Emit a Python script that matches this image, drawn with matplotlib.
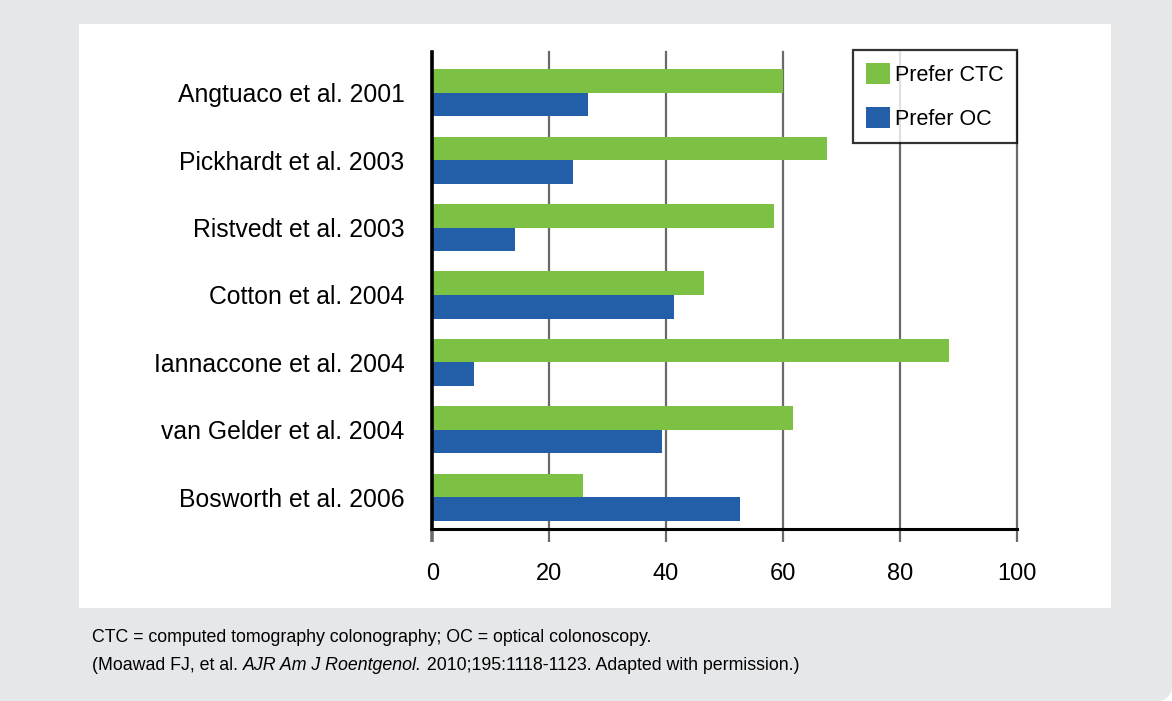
import matplotlib
matplotlib.use('Agg')
import matplotlib.pyplot as plt
import matplotlib.patches as patches
import numpy as np

COLORES = {
    'fondo': '#e6e7e9',
    'panel': '#ffffff',
    'ctc': '#7cc144',
    'oc': '#235ea9',
    'rejilla': '#6a6a6a',
    'eje': '#000000',
}

estudios = [
    'Angtuaco et al. 2001',
    'Pickhardt et al. 2003',
    'Ristvedt et al. 2003',
    'Cotton et al. 2004',
    'Iannaccone et al. 2004',
    'van Gelder et al. 2004',
    'Bosworth et al. 2006',
]
prefer_ctc = [60, 67.5, 58.5, 46.5, 88.5, 61.8, 25.8]
prefer_oc = [26.7, 24, 14.2, 41.4, 7.2, 39.4, 52.7]
ticks_x = [0, 20, 40, 60, 80, 100]

plt.rcParams['font.family'] = ['Liberation Sans', 'DejaVu Sans']

W, H = 1172, 701
fig = plt.figure(figsize=(W / 100, H / 100), dpi=100)
fig.patch.set_facecolor('white')

# fondo gris con la esquina inferior derecha redondeada
r = 14
fig.patches.append(patches.Rectangle((0, 0), 1, 1, transform=fig.transFigure,
                                     facecolor=COLORES['fondo'], edgecolor='none', zorder=0))
fig.patches.append(patches.Rectangle(((W - r) / W, 0), r / W, r / H, transform=fig.transFigure,
                                     facecolor='white', edgecolor='none', zorder=0.5))
fig.patches.append(patches.Ellipse(((W - r) / W, r / H), 2 * r / W, 2 * r / H,
                                   transform=fig.transFigure,
                                   facecolor=COLORES['fondo'], edgecolor='none', zorder=0.6))
# panel blanco
fig.patches.append(patches.Rectangle((79 / W, (H - 608) / H), (1111 - 79) / W, (608 - 24) / H,
                                     transform=fig.transFigure,
                                     facecolor=COLORES['panel'], edgecolor='none', zorder=1))

x0, x1 = 432.3, 1016.5
y_top, y_bot = 51.7, 529.3
ax = fig.add_axes([x0 / W, (H - y_bot) / H, (x1 - x0) / W, (y_bot - y_top) / H])
ax.set_zorder(2)
ax.patch.set_alpha(0)

y = np.arange(len(estudios))
alto = 0.349
ax.barh(y - alto / 2, prefer_ctc, height=alto, color=COLORES['ctc'], label='Prefer CTC', zorder=3)
ax.barh(y + alto / 2, prefer_oc, height=alto, color=COLORES['oc'], label='Prefer OC', zorder=3)

ax.set_xlim(0, 100)
ax.set_ylim(6.475, -0.608)
ax.set_yticks(y)
ax.set_yticklabels(estudios, fontsize=17.8)
ax.tick_params(axis='y', length=0, pad=20)
ax.set_xticks(ticks_x)
ax.set_xticklabels([str(t) for t in ticks_x], fontsize=17)
ax.tick_params(axis='x', direction='out', length=9, width=1.6, color=COLORES['rejilla'], pad=15)
t0 = ax.xaxis.get_major_ticks()[0]
t0.tick1line.set_color(COLORES['eje'])
t0.tick1line.set_markeredgewidth(2.6)

ax.grid(axis='x', color=COLORES['rejilla'], linewidth=1.6, zorder=1)
for linea in ax.get_xgridlines():
    linea.set_clip_on(False)
ax.set_axisbelow(True)
for lado in ('top', 'right'):
    ax.spines[lado].set_visible(False)
ax.spines['left'].set_linewidth(2.6)
ax.spines['bottom'].set_linewidth(2.2)
ax.spines['left'].set_zorder(4)

leg = ax.legend(loc='upper right', bbox_to_anchor=(1.0, 1.0036), fontsize=15.5,
                frameon=True, fancybox=False, borderpad=0.6, handlelength=1.1,
                handleheight=1.1, handletextpad=0.25, labelspacing=1.0,
                borderaxespad=0)
leg.get_frame().set_edgecolor('black')
leg.get_frame().set_linewidth(1.6)
leg.set_zorder(5)

# notas al pie, con una parte en cursiva
fig.canvas.draw()
rend = fig.canvas.get_renderer()
fs_nota = 12.8
fig.text(92 / W, (H - 638) / H, 'CTC = computed tomography colonography; OC = optical colonoscopy.',
         fontsize=fs_nota, va='center', ha='left', zorder=3)
partes = [
    ('(Moawad FJ, et al. ', 'normal'),
    ('AJR Am J Roentgenol.', 'italic'),
    (' 2010;195:1118-1123. Adapted with permission.)', 'normal'),
]
xpos = 92
for texto, estilo in partes:
    t = fig.text(xpos / W, (H - 665) / H, texto, fontsize=fs_nota, style=estilo,
                 va='center', ha='left', zorder=3)
    xpos += t.get_window_extent(renderer=rend).width

fig.savefig('out.png', dpi=100, facecolor=fig.get_facecolor())
